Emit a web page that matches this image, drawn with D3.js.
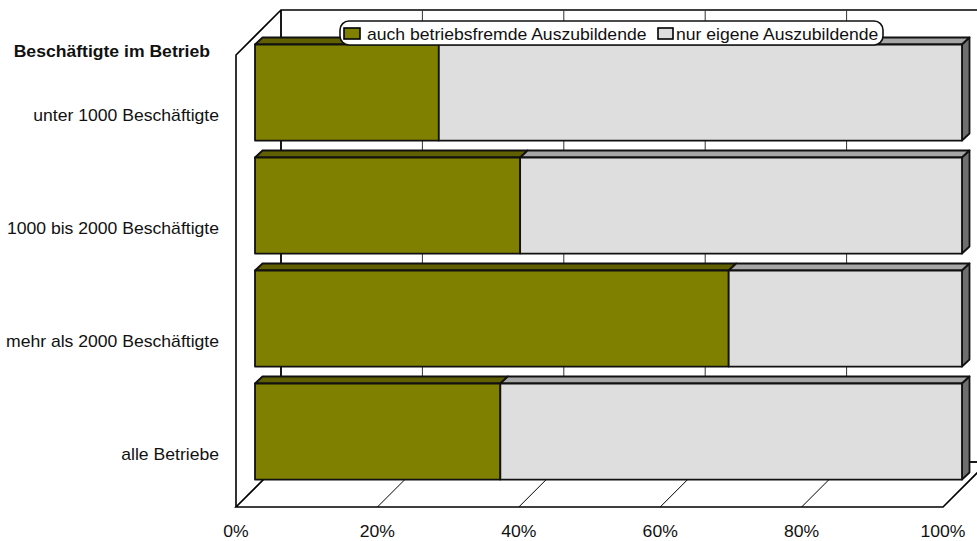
<!DOCTYPE html>
<html>
<head>
<meta charset="utf-8">
<script src="https://cdn.jsdelivr.net/npm/d3@7/dist/d3.min.js"></script>
<style>
html, body { margin: 0; padding: 0; background: #fff; }
svg { display: block; }
text { font-family: "Liberation Sans", Arial, sans-serif; fill: #111; font-size: 16px; }
</style>
</head>
<body>
<svg id="chart" width="977" height="541"></svg>
<script>
// Ausbildungsbeteiligung nach Betriebsgröße (Anteile in Prozent)
const categories = ["unter 1000 Beschäftigte", "1000 bis 2000 Beschäftigte", "mehr als 2000 Beschäftigte", "alle Betriebe"];
const seriesNames = ["auch betriebsfremde Auszubildende", "nur eigene Auszubildende"];
const fremde = [26, 37.5, 67, 34.7];
const eigene = [74, 62.5, 33, 65.3];
const tickValues = [0, 20, 40, 60, 80, 100];
const axisTitle = "Beschäftigte im Betrieb";

const W = 977, H = 541;
const svg = d3.select("#chart");

// Front plane of the pseudo-3D box
const x = d3.scaleLinear().domain([0, 100]).range([236, 943]);
const y = d3.scaleBand().domain(categories).range([55, 507]).paddingInner(0.15).paddingOuter(0.075);
const wallDX = 45, wallDY = -45;   // floor depth
const barX = 19, barY = -19;       // front face of the bars inside the box
const depthX = 7.5, depthY = -7;   // thickness of one bar

const colors = { front: ["#808000", "#dedede"], top: ["#606000", "#a6a6a6"], side: "#6f6f6f" };

const plot = svg.append("g");
const yTop = y.range()[0], yBot = y.range()[1];
const xL = x(0), xR = x(100);

// Back wall, left wall and floor outlines
plot.append("path")
  .attr("d", `M${xL},${yBot} L${xL},${yTop} L${xL + wallDX},${yTop + wallDY} L${W},${yTop + wallDY}`)
  .attr("fill", "none").attr("stroke", "#000").attr("stroke-width", 1.6);
plot.append("path")
  .attr("d", `M${xL + wallDX},${yTop + wallDY} L${xL + wallDX},${yBot + wallDY}`)
  .attr("fill", "none").attr("stroke", "#000").attr("stroke-width", 1.8);
plot.append("path")
  .attr("d", `M${xL + wallDX},${yBot + wallDY} L${xL},${yBot} L${xR},${yBot} L${xR + wallDX},${yBot + wallDY}`)
  .attr("fill", "none").attr("stroke", "#000").attr("stroke-width", 1.6);
plot.append("line")
  .attr("x1", W - 8).attr("x2", W).attr("y1", yBot + wallDY).attr("y2", yBot + wallDY)
  .attr("stroke", "#000").attr("stroke-width", 1.8);

// Grid lines across back wall and floor
const grid = tickValues.filter(t => t > 0 && t < 100);
plot.selectAll("line.wall").data(grid).join("line").attr("class", "wall")
  .attr("x1", d => x(d) + wallDX).attr("x2", d => x(d) + wallDX)
  .attr("y1", yTop + wallDY).attr("y2", yBot + wallDY)
  .attr("stroke", "#333").attr("stroke-width", 1);
plot.selectAll("line.floor").data(grid).join("line").attr("class", "floor")
  .attr("x1", d => x(d)).attr("x2", d => x(d) + wallDX)
  .attr("y1", yBot).attr("y2", yBot + wallDY)
  .attr("stroke", "#000").attr("stroke-width", 1);

// Stacked bars with top and side faces
const barStroke = { stroke: "#111", "stroke-width": 1.8, "stroke-linejoin": "round" };
function styled(sel) {
  Object.entries(barStroke).forEach(([k, v]) => sel.attr(k, v));
  return sel;
}
categories.forEach((c, i) => {
  const top = y(c) + barY, bot = top + y.bandwidth();
  const g = plot.append("g");
  const stack = [[0, fremde[i]], [fremde[i], fremde[i] + eigene[i]]];
  stack.forEach(([a, b], s) => {
    const xa = x(a) + barX, xb = x(b) + barX;
    styled(g.append("path"))
      .attr("d", `M${xa},${top} L${xa + depthX},${top + depthY} L${xb + depthX},${top + depthY} L${xb},${top} Z`)
      .attr("fill", colors.top[s]);
  });
  const xe = x(100) + barX;
  styled(g.append("path"))
    .attr("d", `M${xe},${top} L${xe + depthX},${top + depthY} L${xe + depthX},${bot + depthY} L${xe},${bot} Z`)
    .attr("fill", colors.side);
  stack.forEach(([a, b], s) => {
    styled(g.append("rect"))
      .attr("x", x(a) + barX).attr("y", top)
      .attr("width", x(b) - x(a)).attr("height", y.bandwidth())
      .attr("fill", colors.front[s]);
  });
});

// Text is set slightly wider than the regular face
const stretch = 1.1;
const place = (px, py) => `translate(${px},${py}) scale(${stretch},1)`;

// Value axis labels
svg.selectAll("text.tick").data(tickValues).join("text").attr("class", "tick")
  .attr("transform", d => place(x(d), 537))
  .attr("text-anchor", "middle")
  .text(d => d + "%");

// Category labels
svg.selectAll("text.cat").data(categories).join("text").attr("class", "cat")
  .attr("transform", d => place(219, y(d) + barY + y.bandwidth() / 2 + 28))
  .attr("text-anchor", "end")
  .text(d => d);

svg.append("text").attr("transform", place(210, 57))
  .attr("text-anchor", "end").attr("font-weight", "bold")
  .text(axisTitle);

// Legend
const legend = svg.append("g");
legend.append("rect")
  .attr("x", 340).attr("y", 21).attr("width", 543).attr("height", 24).attr("rx", 9)
  .attr("fill", "#fff").attr("stroke", "#111").attr("stroke-width", 1.6);
const legendX = [344, 658];
const legendTextX = [367, 676];
seriesNames.forEach((n, i) => {
  legend.append("rect").attr("x", legendX[i]).attr("y", 28).attr("width", i ? 15 : 16).attr("height", 11)
    .attr("fill", colors.front[i]).attr("stroke", "#000").attr("stroke-width", 1.6);
  legend.append("text").attr("transform", place(legendTextX[i], 39.5)).text(n);
});
</script>
</body>
</html>
